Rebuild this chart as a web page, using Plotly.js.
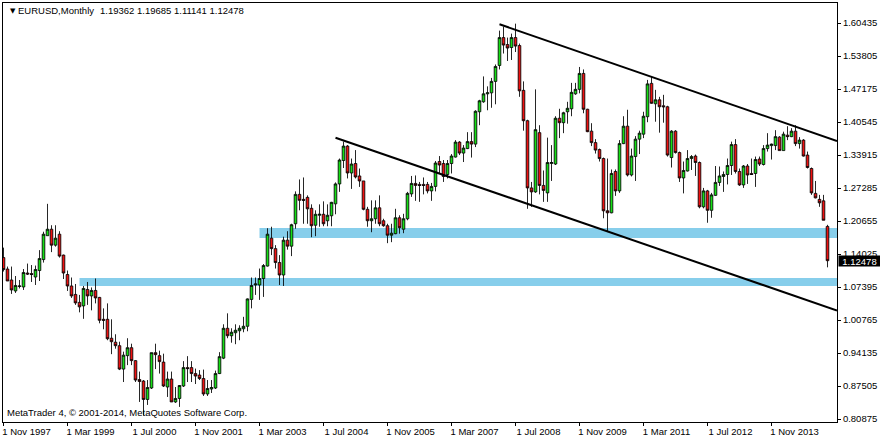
<!DOCTYPE html>
<html><head><meta charset="utf-8">
<script src="https://cdn.plot.ly/plotly-3.0.1.min.js"></script>
<style>html,body{margin:0;padding:0;background:#fff}#c{width:880px;height:440px}</style></head>
<body><div id="c"></div>
<script>
var highs=[1.151,1.113,1.113,1.094,1.086,1.108,1.119,1.116,1.115,1.146,
1.183,1.239,1.196,1.196,1.184,1.137,1.105,1.091,1.078,1.056,
1.074,1.082,1.071,1.089,1.052,1.029,1.039,1.007,0.977,0.962,
0.942,0.969,0.958,0.925,0.902,0.885,0.885,0.940,0.958,0.944,
0.938,0.902,0.902,0.871,0.875,0.923,0.933,0.923,0.908,0.905,
0.906,0.885,0.885,0.904,0.941,0.997,1.019,0.989,0.997,0.995,
1.012,1.049,1.091,1.091,1.109,1.118,1.190,1.193,1.156,1.136,
1.173,1.184,1.199,1.264,1.288,1.292,1.256,1.238,1.226,1.238,
1.244,1.238,1.243,1.282,1.330,1.364,1.357,1.330,1.347,1.310,
1.285,1.233,1.246,1.246,1.256,1.209,1.199,1.199,1.229,1.216,
1.219,1.263,1.295,1.296,1.283,1.292,1.283,1.281,1.325,1.335,
1.327,1.327,1.339,1.367,1.365,1.357,1.383,1.383,1.427,1.448,
1.495,1.475,1.492,1.519,1.587,1.595,1.573,1.581,1.601,1.561,
1.485,1.408,1.283,1.469,1.397,1.306,1.372,1.357,1.415,1.430,
1.424,1.444,1.482,1.482,1.514,1.509,1.430,1.401,1.369,1.350,
1.332,1.330,1.308,1.308,1.367,1.415,1.428,1.350,1.375,1.386,
1.424,1.488,1.494,1.468,1.454,1.458,1.436,1.387,1.387,1.344,
1.324,1.347,1.337,1.338,1.324,1.271,1.267,1.261,1.315,1.314,
1.304,1.330,1.364,1.369,1.310,1.317,1.319,1.330,1.334,1.334,
1.357,1.381,1.360,1.387,1.375,1.384,1.395,1.391,1.397,1.373,
1.369,1.344,1.312,1.285,1.257,1.257,1.19685];
var lows=[1.103,1.084,1.058,1.060,1.069,1.066,1.096,1.082,1.076,1.084,
1.121,1.175,1.142,1.153,1.131,1.088,1.064,1.050,1.036,1.021,
1.008,1.036,1.025,1.039,0.999,0.987,0.965,0.937,0.948,0.905,
0.881,0.915,0.915,0.881,0.841,0.814,0.835,0.867,0.907,0.898,
0.871,0.851,0.841,0.839,0.831,0.871,0.881,0.881,0.877,0.885,
0.853,0.853,0.859,0.867,0.897,0.927,0.969,0.960,0.957,0.965,
0.981,0.983,1.029,1.056,1.046,1.052,1.113,1.136,1.109,1.076,
1.074,1.147,1.134,1.189,1.226,1.199,1.199,1.172,1.174,1.193,
1.194,1.194,1.194,1.218,1.263,1.311,1.290,1.269,1.290,1.273,
1.226,1.193,1.182,1.199,1.194,1.193,1.160,1.162,1.178,1.179,
1.180,1.206,1.253,1.245,1.243,1.258,1.260,1.245,1.264,1.300,
1.283,1.290,1.300,1.332,1.337,1.323,1.349,1.332,1.353,1.397,
1.442,1.427,1.432,1.439,1.509,1.541,1.526,1.528,1.544,1.454,
1.386,1.229,1.233,1.261,1.258,1.243,1.243,1.285,1.317,1.371,
1.381,1.400,1.415,1.458,1.461,1.421,1.383,1.355,1.340,1.324,
1.210,1.183,1.220,1.255,1.261,1.359,1.294,1.294,1.285,1.339,
1.371,1.403,1.440,1.404,1.382,1.402,1.334,1.312,1.340,1.283,
1.260,1.304,1.307,1.295,1.230,1.230,1.201,1.211,1.255,1.275,
1.263,1.278,1.297,1.300,1.275,1.271,1.279,1.297,1.273,1.315,
1.316,1.344,1.328,1.347,1.346,1.346,1.367,1.373,1.355,1.350,
1.334,1.310,1.257,1.250,1.233,1.206,1.11141];
var opens=[1.131,1.108,1.086,1.064,1.073,1.072,1.100,1.099,1.092,1.105,
1.127,1.175,1.188,1.156,1.178,1.136,1.097,1.074,1.057,1.041,
1.034,1.067,1.054,1.065,1.051,1.007,1.007,0.969,0.961,0.954,
0.907,0.934,0.950,0.924,0.886,0.883,0.846,0.869,0.940,0.934,
0.921,0.871,0.887,0.841,0.848,0.873,0.910,0.910,0.898,0.895,
0.888,0.857,0.867,0.869,0.898,0.929,0.989,0.974,0.980,0.984,
0.988,0.993,1.047,1.076,1.076,1.089,1.114,1.170,1.149,1.121,
1.096,1.166,1.154,1.199,1.258,1.248,1.252,1.230,1.196,1.216,
1.218,1.205,1.215,1.239,1.279,1.326,1.355,1.301,1.320,1.295,
1.285,1.228,1.205,1.209,1.231,1.205,1.195,1.176,1.179,1.211,
1.188,1.209,1.259,1.280,1.278,1.278,1.278,1.265,1.274,1.324,
1.320,1.298,1.320,1.333,1.363,1.341,1.350,1.364,1.359,1.424,
1.444,1.460,1.462,1.485,1.517,1.573,1.559,1.553,1.573,1.557,
1.467,1.406,1.271,1.263,1.382,1.276,1.261,1.320,1.319,1.411,
1.402,1.424,1.430,1.460,1.469,1.501,1.429,1.385,1.362,1.348,
1.330,1.225,1.221,1.304,1.265,1.360,1.395,1.297,1.334,1.369,
1.379,1.414,1.481,1.440,1.448,1.436,1.434,1.332,1.385,1.342,
1.291,1.305,1.330,1.335,1.322,1.233,1.265,1.226,1.256,1.282,
1.294,1.298,1.316,1.358,1.304,1.277,1.315,1.300,1.300,1.329,
1.318,1.350,1.356,1.356,1.373,1.346,1.377,1.374,1.385,1.360,
1.367,1.337,1.310,1.260,1.248,1.245,1.19362];
var closes=[1.107,1.084,1.066,1.075,1.074,1.101,1.098,1.097,1.107,1.129,
1.178,1.188,1.156,1.170,1.134,1.100,1.074,1.054,1.040,1.032,
1.069,1.054,1.065,1.050,1.005,1.005,0.968,0.962,0.954,0.907,
0.935,0.950,0.924,0.885,0.882,0.846,0.870,0.940,0.936,0.922,
0.873,0.887,0.841,0.848,0.874,0.910,0.908,0.898,0.893,0.888,
0.857,0.868,0.870,0.898,0.932,0.989,0.974,0.981,0.985,0.989,
0.993,1.048,1.075,1.078,1.089,1.115,1.178,1.149,1.121,1.096,
1.166,1.154,1.197,1.258,1.246,1.246,1.229,1.195,1.218,1.218,
1.199,1.216,1.242,1.279,1.327,1.355,1.301,1.319,1.293,1.285,
1.228,1.205,1.209,1.231,1.199,1.195,1.176,1.180,1.211,1.191,
1.209,1.260,1.280,1.276,1.276,1.276,1.265,1.274,1.321,1.317,
1.294,1.320,1.335,1.363,1.341,1.351,1.364,1.359,1.425,1.446,
1.460,1.462,1.485,1.515,1.573,1.558,1.552,1.573,1.556,1.466,
1.406,1.271,1.263,1.388,1.276,1.266,1.322,1.322,1.411,1.402,
1.422,1.431,1.463,1.469,1.501,1.429,1.384,1.362,1.347,1.330,
1.225,1.221,1.300,1.265,1.360,1.395,1.297,1.335,1.369,1.381,
1.415,1.480,1.441,1.448,1.434,1.434,1.337,1.385,1.342,1.291,
1.306,1.330,1.334,1.322,1.233,1.265,1.226,1.257,1.282,1.295,
1.298,1.316,1.358,1.304,1.277,1.315,1.297,1.298,1.328,1.319,
1.350,1.357,1.359,1.374,1.346,1.379,1.374,1.385,1.360,1.367,
1.335,1.312,1.261,1.251,1.241,1.206,1.12478];
var xTickLabels=['1 Nov 1997','1 Mar 1999','1 Jul 2000','1 Nov 2001','1 Mar 2003','1 Jul 2004','1 Nov 2005','1 Mar 2007','1 Jul 2008','1 Nov 2009','1 Mar 2011','1 Jul 2012','1 Nov 2013'];
var xTickMonths=[0,16,32,48,64,80,96,112,128,144,160,176,192];
var yTicks=[1.60205,1.53575,1.46945,1.40315,1.33685,1.27055,1.20425,1.13795,1.07165,1.00535,0.93905,0.87275,0.80645];
var yTickLabels=['1.60435','1.53805','1.47175','1.40545','1.33915','1.27285','1.20655','1.14025','1.07395','1.00765','0.94135','0.87505','0.80875'];
var channelLowerX=[83,208.375], channelLowerY=[1.3719,1.0247];
var channelUpperX=[124,208.375], channelUpperY=[1.5997,1.3653];
var bandUpperX=[64,208.375], bandUpperY=[1.1706,1.1905];
var bandLowerX=[19,208.375], bandLowerY=[1.0740,1.0900];
var lastPrice='1.12478', lastValue=1.12478;
var BAND='#87CEEB', FONT='"Liberation Sans", Arial, sans-serif', FS=9.5;

var months=opens.map(function(_,i){return i;});
var traces=[{
  type:'candlestick',x:months,open:opens,high:highs,low:lows,close:closes,
  whiskerwidth:0,hoverinfo:'skip',showlegend:false,
  increasing:{line:{color:'#000',width:0.85},fillcolor:'#14e014'},
  decreasing:{line:{color:'#000',width:0.85},fillcolor:'#f01010'}
},{
  type:'scatter',mode:'lines',x:channelLowerX,y:channelLowerY,line:{color:'#000',width:2},hoverinfo:'skip',showlegend:false
},{
  type:'scatter',mode:'lines',x:channelUpperX,y:channelUpperY,line:{color:'#000',width:2},hoverinfo:'skip',showlegend:false
}];
function band(xs,ys){return {type:'rect',layer:'below',xref:'x',yref:'y',x0:xs[0],x1:xs[1],y0:ys[0],y1:ys[1],fillcolor:BAND,line:{width:0}};}
var layout={
  width:880,height:440,autosize:false,paper_bgcolor:'#fff',plot_bgcolor:'#fff',
  margin:{l:3,r:43,t:3,b:18},showlegend:false,boxgap:0.35,boxgroupgap:0,
  font:{family:FONT,size:FS,color:'#000'},
  xaxis:{type:'linear',range:[-0.125,208.375],tickmode:'array',tickvals:xTickMonths,ticktext:xTickLabels,
    ticks:'outside',ticklen:3,tickcolor:'#000',showgrid:false,zeroline:false,showline:true,linecolor:'#000',mirror:true,
    ticklabelshift:23,ticklabelstandoff:-2,tickangle:0,rangeslider:{visible:false},fixedrange:true,tickfont:{family:FONT,size:FS,color:'#000'}},
  yaxis:{type:'linear',side:'right',range:[0.8007,1.64249],tickmode:'array',tickvals:yTicks,ticktext:yTickLabels,
    ticks:'outside',ticklen:3,tickcolor:'#000',showgrid:false,zeroline:false,showline:true,linecolor:'#000',mirror:true,
    fixedrange:true,tickfont:{family:FONT,size:FS,color:'#000'}},
  shapes:[band(bandUpperX,bandUpperY),band(bandLowerX,bandLowerY)],
  annotations:[
    {xref:'paper',yref:'paper',x:0.0065,y:0.982,xanchor:'left',yanchor:'middle',showarrow:false,text:'▼',font:{size:7,color:'#000',family:'DejaVu Sans'}},
    {xref:'paper',yref:'paper',x:0.0155,y:0.982,xanchor:'left',yanchor:'middle',showarrow:false,text:'EURUSD,Monthly',font:{size:FS,color:'#000',family:FONT}},
    {xref:'paper',yref:'paper',x:0.114,y:0.982,xanchor:'left',yanchor:'middle',showarrow:false,text:'1.19362 1.19685 1.11141 1.12478',font:{size:FS,color:'#000',family:FONT}},
    {xref:'paper',yref:'paper',x:0.0025,y:0.022,xanchor:'left',yanchor:'middle',showarrow:false,text:'MetaTrader 4, © 2001-2014, MetaQuotes Software Corp.',font:{size:FS,color:'#000',family:FONT}},
    {xref:'paper',yref:'y',x:1,y:lastValue,xanchor:'left',yanchor:'middle',xshift:1,showarrow:false,text:lastPrice,bgcolor:'#000',width:41,height:10,borderpad:0,align:'center',font:{size:FS,color:'#fff',family:FONT}}
  ]
};
Plotly.newPlot('c',traces,layout,{staticPlot:true,displayModeBar:false});
</script></body></html>
